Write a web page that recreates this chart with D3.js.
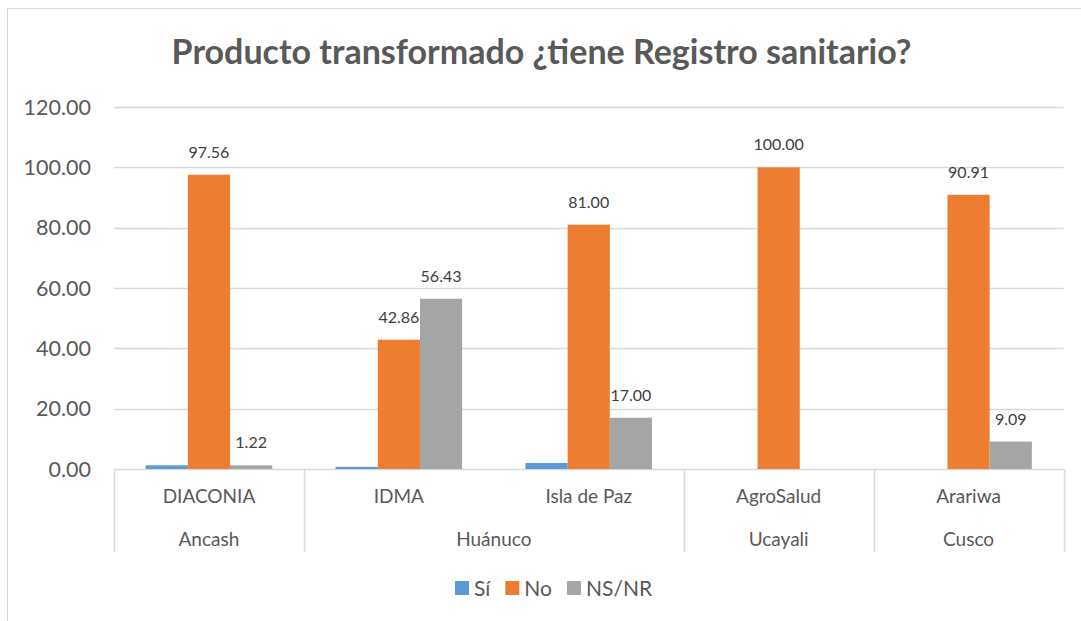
<!DOCTYPE html>
<html><head><meta charset="utf-8">
<script src="https://cdn.jsdelivr.net/npm/d3@7"></script>
<style>
body{margin:0;background:#fff;}
svg text{font-family:Lato,"Open Sans",sans-serif;}
</style></head>
<body>
<svg id="chart" width="1081" height="621"></svg>
<script>
const title = "Producto transformado ¿tiene Registro sanitario?";
const categories = ["DIACONIA", "IDMA", "Isla de Paz", "AgroSalud", "Arariwa"];
const regions = ["Ancash", "Huánuco", "Ucayali", "Cusco"];
const regionSpans = [1, 2, 1, 1];
const seriesNames = ["Sí", "No", "NS/NR"];
const seriesColors = ["#5B9BD5", "#ED7D31", "#A5A5A5"];
const siValues = [1.22, 0.71, 2.00, 0, 0];
const noValues = [97.56, 42.86, 81.00, 100.00, 90.91];
const nsnrValues = [1.22, 56.43, 17.00, 0, 9.09];
const yTicks = [0, 20, 40, 60, 80, 100, 120];
const labelledSeries = [false, true, true];

const series = [siValues, noValues, nsnrValues];
const svg = d3.select("#chart");
const textColor = "#595959";
const gridColor = "#D9D9D9";

// chart border
svg.append("rect").attr("x", 7.5).attr("y", 8.5).attr("width", 1200).attr("height", 800)
  .attr("fill", "#fff").attr("stroke", gridColor).attr("stroke-width", 1);

const plot = {left: 114, right: 1063.5, top: 107, bottom: 469};
const x = d3.scaleBand().domain(categories).range([plot.left, plot.right]).paddingInner(0).paddingOuter(0);
const xs = d3.scaleBand().domain(seriesNames).range([0, x.bandwidth()]).paddingInner(0).paddingOuter(0.75);
const y = d3.scaleLinear().domain([0, 120]).range([plot.bottom, plot.top]);

// title
svg.append("text").attr("x", 541.5).attr("y", 64).attr("text-anchor", "middle")
  .attr("font-size", 34).attr("font-weight", 700).attr("fill", textColor).text(title);

// gridlines
svg.append("g").selectAll("line").data(yTicks).join("line")
  .attr("x1", plot.left).attr("x2", plot.right)
  .attr("y1", d => Math.round(y(d)) + 0.5).attr("y2", d => Math.round(y(d)) + 0.5)
  .attr("stroke", gridColor).attr("stroke-width", 1.3);

// y tick labels
const fmt = d3.format(".2f");
svg.append("g").selectAll("text").data(yTicks).join("text")
  .attr("x", 91).attr("y", d => y(d) + 7.5).attr("text-anchor", "end")
  .attr("font-size", 21.5).attr("fill", textColor).text(d => fmt(d));

// bars
const rows = categories.map((c, i) => ({cat: c, vals: series.map(s => s[i])}));
const groups = svg.append("g").selectAll("g").data(rows).join("g")
  .attr("transform", d => `translate(${x(d.cat)},0)`);
groups.selectAll("rect").data(d => d.vals.map((v, j) => ({v, name: seriesNames[j], j}))).join("rect")
  .attr("x", d => xs(d.name)).attr("width", xs.bandwidth())
  .attr("y", d => y(d.v)).attr("height", d => y(0) - y(d.v))
  .attr("fill", d => seriesColors[d.j]);
groups.selectAll("text").data(d => d.vals.map((v, j) => ({v, name: seriesNames[j], j}))
    .filter(d => labelledSeries[d.j] && d.v > 0)).join("text")
  .attr("x", d => xs(d.name) + xs.bandwidth() / 2).attr("y", d => y(d.v) - 17)
  .attr("text-anchor", "middle").attr("font-size", 16).attr("fill", "#404040")
  .text(d => fmt(d.v));

// axis separators
const boundaries = [0];
regionSpans.reduce((acc, s) => { boundaries.push(acc + s); return acc + s; }, 0);
const bx = i => i < categories.length ? x(categories[i]) : plot.right;
svg.append("g").selectAll("line").data(boundaries).join("line")
  .attr("x1", d => Math.round(bx(d)) + 0.5).attr("x2", d => Math.round(bx(d)) + 0.5)
  .attr("y1", plot.bottom).attr("y2", 552)
  .attr("stroke", gridColor).attr("stroke-width", 1.5);

// category labels
svg.append("g").selectAll("text").data(categories).join("text")
  .attr("x", d => x(d) + x.bandwidth() / 2).attr("y", 503).attr("text-anchor", "middle")
  .attr("font-size", 19).attr("fill", textColor).text(d => d);

// region labels
svg.append("g").selectAll("text").data(regions).join("text")
  .attr("x", (d, i) => (bx(boundaries[i]) + bx(boundaries[i + 1])) / 2).attr("y", 546)
  .attr("text-anchor", "middle").attr("font-size", 19).attr("fill", textColor).text(d => d);

// legend
const legend = svg.append("g");
let lx = 455;
seriesNames.forEach((n, i) => {
  legend.append("rect").attr("x", lx).attr("y", 581).attr("width", 14).attr("height", 14).attr("fill", seriesColors[i]);
  const t = legend.append("text").attr("x", lx + 19).attr("y", 596).attr("font-size", 21)
    .attr("fill", textColor).text(n);
  lx += 19 + t.node().getComputedTextLength() + 15;
});
</script>
</body></html>
